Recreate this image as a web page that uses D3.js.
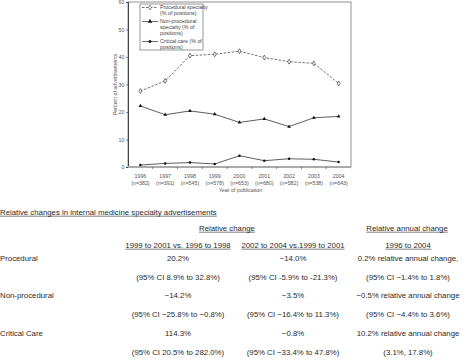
<!DOCTYPE html>
<html>
<head>
<meta charset="utf-8">
<script src="https://cdn.jsdelivr.net/npm/d3@7"></script>
<style>
  body { margin: 0; background: #fff; }
  text { font-family: "Liberation Sans", Arial, sans-serif; }
</style>
</head>
<body>
<svg id="chart" width="467" height="361"></svg>
<script>
// chart data
const years = ["1996", "1997", "1998", "1999", "2000", "2001", "2002", "2003", "2004"];
const counts = ["382", "391", "545", "578", "653", "680", "582", "538", "643"];
const procedural = [27.6, 31.3, 40.5, 41.0, 42.1, 39.8, 38.3, 37.7, 30.4];
const nonProcedural = [22.2, 19.0, 20.4, 19.2, 16.2, 17.5, 14.7, 17.9, 18.4];
const criticalCare = [0.7, 1.3, 1.6, 1.1, 4.1, 2.3, 3.0, 2.8, 1.8];
const yTicks = [0, 10, 20, 30, 40, 50, 60];

// table data
const tableTitle = "Relative changes in internal medicine specialty advertisements";
const groupHeads = ["Relative change", "Relative annual change"];
const colHeads = ["1999 to 2001 vs. 1996 to 1998", "2002 to 2004 vs.1999 to 2001", "1996 to 2004"];
const rowNames = ["Procedural", "Non-procedural", "Critical Care"];
const rowValues = [
    ["20.2%", "\u221214.0%", "0.2% relative annual change,"],
    ["\u221214.2%", "\u22123.5%", "\u22120.5% relative annual change"],
    ["114.3%", "\u22120.8%", "10.2% relative annual change"]
];
const rowCIs = [
    ["(95% CI 8.9% to 32.8%)", "(95% CI -5.9% to -21.3%)", "(95% CI \u22121.4% to 1.8%)"],
    ["(95% CI \u221225.8% to \u22120.8%)", "(95% CI \u221216.4% to 11.3%)", "(95% CI \u22124.4% to 3.6%)"],
    ["(95% CI 20.5% to 282.0%)", "(95% CI \u221233.4% to 47.8%)", "(3.1%, 17.8%)"]
];

const svg = d3.select("#chart");
const plot = { left: 128, right: 351, top: 2, bottom: 167 };
const small = 5.3;
const ink = "#333";

const x = d3.scaleBand().domain(years).range([plot.left, plot.right]);
const y = d3.scaleLinear().domain([0, 60]).range([plot.bottom, plot.top]);
const cx = (i) => x(years[i]) + x.bandwidth() / 2;

// frame
svg.append("rect")
    .attr("x", plot.left).attr("y", plot.top)
    .attr("width", plot.right - plot.left).attr("height", plot.bottom - plot.top)
    .attr("fill", "none").attr("stroke", "#777").attr("stroke-width", 0.8);

// y axis
const yAxis = svg.append("g")
    .attr("transform", `translate(${plot.left},0)`)
    .call(d3.axisLeft(y).tickValues(yTicks).tickSize(2).tickPadding(1.5));
yAxis.select(".domain").attr("stroke", "#222").attr("stroke-width", 0.8);
yAxis.selectAll(".tick line").attr("stroke", "#444").attr("stroke-width", 0.6);
yAxis.selectAll("text").attr("font-size", small).attr("fill", "#555")
    .attr("font-family", "Liberation Sans, Arial, sans-serif");

svg.append("text")
    .attr("transform", `translate(117,${(plot.top + plot.bottom) / 2}) rotate(-90)`)
    .attr("text-anchor", "middle")
    .attr("font-size", small).attr("fill", "#555")
    .text("Percent of advertisements");

// x axis: ticks on category boundaries
svg.append("line")
    .attr("x1", plot.left).attr("x2", plot.right)
    .attr("y1", plot.bottom).attr("y2", plot.bottom)
    .attr("stroke", "#aaa").attr("stroke-width", 2);
svg.append("g").selectAll("line")
    .data(years.slice(1))
    .join("line")
    .attr("x1", (d) => x(d)).attr("x2", (d) => x(d))
    .attr("y1", plot.bottom).attr("y2", plot.bottom + 2)
    .attr("stroke", "#444").attr("stroke-width", 0.6);

const xl = svg.append("g").selectAll("g").data(years).join("g")
    .attr("transform", (d) => `translate(${x(d) + x.bandwidth() / 2},0)`);
xl.append("text").attr("y", 177.5).attr("text-anchor", "middle")
    .attr("font-size", small).attr("fill", "#555").text((d) => d);
xl.append("text").attr("y", 184.5).attr("text-anchor", "middle")
    .attr("font-size", small).attr("fill", "#555")
    .text((d, i) => `(n=${counts[i]})`);

svg.append("text")
    .attr("x", (plot.left + plot.right) / 2 + 1).attr("y", 191.5)
    .attr("text-anchor", "middle").attr("font-size", small).attr("fill", "#555")
    .text("Year of publication");

// series
const line = d3.line().x((d, i) => cx(i)).y((d) => y(d));

svg.append("path").datum(procedural)
    .attr("d", line).attr("fill", "none")
    .attr("stroke", ink).attr("stroke-width", 0.7).attr("stroke-dasharray", "2.5,1.5");
svg.append("path").datum(nonProcedural)
    .attr("d", line).attr("fill", "none")
    .attr("stroke", ink).attr("stroke-width", 0.8);
svg.append("path").datum(criticalCare)
    .attr("d", line).attr("fill", "none")
    .attr("stroke", ink).attr("stroke-width", 0.8);

const diamond = d3.symbol().type(d3.symbolDiamond).size(7);
const triangle = d3.symbol().type(d3.symbolTriangle).size(6);
const dot = d3.symbol().type(d3.symbolCircle).size(5);

svg.append("g").selectAll("path").data(procedural).join("path")
    .attr("d", diamond)
    .attr("transform", (d, i) => `translate(${cx(i)},${y(d)})`)
    .attr("fill", "#fff").attr("stroke", "#222").attr("stroke-width", 0.6);
svg.append("g").selectAll("path").data(nonProcedural).join("path")
    .attr("d", triangle)
    .attr("transform", (d, i) => `translate(${cx(i)},${y(d)})`)
    .attr("fill", "#111");
svg.append("g").selectAll("path").data(criticalCare).join("path")
    .attr("d", dot)
    .attr("transform", (d, i) => `translate(${cx(i)},${y(d)})`)
    .attr("fill", "#111");

// legend
const legend = svg.append("g");
legend.append("rect")
    .attr("x", 140).attr("y", 4).attr("width", 63).attr("height", 46)
    .attr("fill", "#fff").attr("stroke", "#555").attr("stroke-width", 0.6);

const legendItems = [
    { lines: ["Procedural specialty", "(% of positions)"], y: 7.5, dash: "2.5,1.5", sym: diamond, fill: "#fff" },
    { lines: ["Non-procedural", "specialty (% of", "positions)"], y: 21.5, dash: null, sym: triangle, fill: "#111" },
    { lines: ["Critical care (% of", "positions)"], y: 41.5, dash: null, sym: dot, fill: "#111" }
];
legendItems.forEach((it) => {
    legend.append("line")
        .attr("x1", 142).attr("x2", 158).attr("y1", it.y).attr("y2", it.y)
        .attr("stroke", ink).attr("stroke-width", 0.7)
        .attr("stroke-dasharray", it.dash);
    legend.append("path").attr("d", it.sym)
        .attr("transform", `translate(150,${it.y})`)
        .attr("fill", it.fill).attr("stroke", "#222").attr("stroke-width", 0.5);
    legend.append("g").selectAll("text").data(it.lines).join("text")
        .attr("x", 160).attr("y", (d, i) => it.y + 1.8 + i * 5.8)
        .attr("font-size", small).attr("fill", "#444")
        .text((d) => d);
});

// table
const tfs = 7.8;
const tcol = "#2a2a2a";
const colX = [178, 293, 408];
const table = svg.append("g").attr("font-size", tfs).attr("fill", tcol);

function underlined(sel) {
    sel.each(function () {
        const b = this.getBBox();
        d3.select(this.parentNode).append("line")
            .attr("x1", b.x).attr("x2", b.x + b.width)
            .attr("y1", +d3.select(this).attr("y") + 1.2)
            .attr("y2", +d3.select(this).attr("y") + 1.2)
            .attr("stroke", tcol).attr("stroke-width", 0.6);
    });
}

table.append("text").attr("x", 0).attr("y", 215).text(tableTitle).call(underlined);

table.append("text").attr("x", 227).attr("y", 231).attr("text-anchor", "middle")
    .text(groupHeads[0]).call(underlined);
table.append("text").attr("x", 407).attr("y", 231).attr("text-anchor", "middle")
    .text(groupHeads[1]).call(underlined);

colHeads.forEach((h, j) => {
    table.append("text").attr("x", colX[j]).attr("y", 248).attr("text-anchor", "middle")
        .text(h).call(underlined);
});

const rowY = [261, 298, 336];
rowNames.forEach((name, r) => {
    table.append("text").attr("x", 0).attr("y", rowY[r]).text(name);
    rowValues[r].forEach((v, j) => {
        table.append("text").attr("x", colX[j]).attr("y", rowY[r])
            .attr("text-anchor", "middle").text(v);
    });
    rowCIs[r].forEach((v, j) => {
        table.append("text").attr("x", colX[j]).attr("y", rowY[r] + 18.5)
            .attr("text-anchor", "middle").text(v);
    });
});
</script>
</body>
</html>
